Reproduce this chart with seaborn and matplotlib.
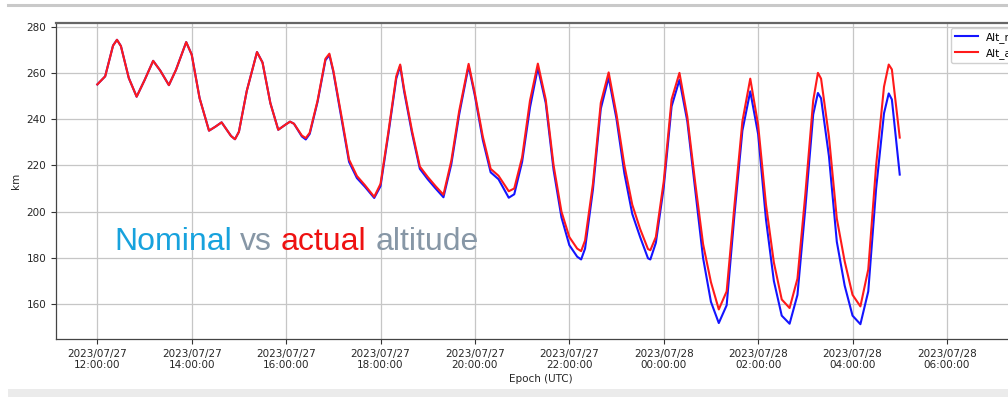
import matplotlib
matplotlib.use("Agg")
import matplotlib.pyplot as plt
import matplotlib.dates as mdates
from matplotlib.lines import Line2D
from matplotlib.patches import Rectangle
import pandas as pd
import seaborn as sns

# ---- data (minutes after 2023/07/27 12:00 UTC, altitude in km) ----
minutes = [0, 10, 20, 25, 30, 40, 50, 60, 71, 80, 91, 100, 113, 120, 130, 142, 150, 158,
           170, 175, 180, 190, 203, 210, 220, 230, 240, 245, 250, 260, 265, 270, 280, 290,
           295, 300, 310, 320, 330, 340, 352, 360, 370, 380, 385, 390, 400, 410, 420, 430,
           440, 450, 460, 472, 480, 490, 500, 510, 523, 530, 540, 550, 560, 570, 580, 590,
           600, 610, 615, 620, 630, 640, 650, 660, 670, 680, 690, 700, 703, 710, 720, 730,
           740, 750, 760, 770, 780, 790, 800, 810, 820, 830, 840, 850, 860, 870, 880, 890,
           900, 910, 916, 920, 930, 940, 950, 960, 970, 980, 990, 1000, 1006, 1010, 1020]

alt_actual = [255.0, 258.5, 271.8, 274.3, 271.6, 257.8, 249.7, 256.8, 265.2, 261.0, 254.7,
              261.3, 273.3, 267.9, 249.1, 235.0, 236.7, 238.6, 232.7, 231.3, 234.5, 252.2,
              269.0, 264.5, 246.9, 235.4, 237.8, 238.9, 238.0, 232.9, 231.8, 234.1, 248.0,
              266.1, 268.3, 261.0, 242.0, 222.5, 215.4, 211.5, 206.4, 212.0, 234.5, 258.5,
              263.6, 253.0, 235.0, 219.5, 215.0, 211.0, 207.3, 222.0, 243.5, 263.9, 251.0,
              232.5, 218.5, 215.5, 208.8, 210.0, 223.5, 248.0, 264.0, 248.5, 220.0, 200.0,
              189.0, 184.0, 182.9, 187.5, 212.0, 247.0, 260.2, 242.0, 220.0, 203.0, 192.5,
              183.8, 183.3, 189.0, 213.0, 248.5, 260.0, 241.0, 212.5, 186.0, 169.5, 157.7,
              165.5, 203.0, 239.0, 257.5, 237.5, 203.0, 178.0, 162.0, 158.3, 171.0, 207.5,
              248.0, 260.0, 257.5, 232.5, 197.0, 178.5, 164.0, 159.0, 175.0, 220.0, 254.0,
              263.6, 261.5, 232.0]

alt_nominal = [255.0, 258.5, 271.8, 274.3, 271.6, 257.8, 249.7, 256.8, 265.2, 261.0, 254.7,
               261.3, 273.3, 267.9, 249.1, 235.0, 236.7, 238.6, 232.7, 231.3, 234.5, 252.2,
               269.0, 264.5, 246.9, 235.4, 237.8, 238.9, 238.0, 232.5, 231.2, 233.6, 247.5,
               265.5, 267.7, 260.5, 241.0, 221.5, 214.5, 210.8, 205.9, 211.0, 233.5, 257.5,
               263.0, 252.0, 234.0, 218.5, 214.0, 210.0, 206.2, 220.5, 242.0, 263.0, 250.0,
               231.0, 217.0, 214.0, 206.0, 207.5, 221.5, 245.0, 262.2, 247.0, 218.0, 197.5,
               185.5, 180.5, 179.3, 184.0, 209.5, 244.5, 258.0, 240.0, 216.5, 199.0, 189.0,
               179.8, 179.3, 186.5, 210.5, 245.5, 257.0, 239.0, 209.5, 180.0, 161.0, 151.8,
               159.5, 199.0, 235.0, 252.0, 233.5, 196.5, 170.0, 155.0, 151.5, 164.0, 201.5,
               242.0, 251.3, 249.0, 224.0, 187.0, 168.0, 155.0, 151.3, 165.5, 210.0, 242.5,
               251.1, 248.5, 216.0]

series_names = ["Alt_nominal", "Alt_actual"]
series_colors = ["#1414ff", "#ff1a1a"]
y_ticks = [160, 180, 200, 220, 240, 260, 280]
overlay_words = ["Nominal", "vs", "actual", "altitude"]
overlay_colors = ["#17a2dd", "#8797a6", "#ee1111", "#8797a6"]

# ---- table for seaborn ----
start = pd.Timestamp("2023-07-27 12:00:00")
epoch = start + pd.to_timedelta(minutes, unit="min")
n = len(minutes)
df = pd.DataFrame({
    "Epoch (UTC)": list(epoch) * 2,
    "km": alt_nominal + alt_actual,
    "series": [series_names[0]] * n + [series_names[1]] * n,
})

W, H = 1008, 397
fig = plt.figure(figsize=(W / 100, H / 100), dpi=100)
fig.patch.set_facecolor("white")
ax = fig.add_axes([56 / W, 1 - 339 / H, (1026 - 56) / W, (339 - 22.7) / H])

sns.lineplot(data=df, x="Epoch (UTC)", y="km", hue="series", hue_order=series_names,
             palette=dict(zip(series_names, series_colors)), linewidth=1.5, ax=ax,
             estimator=None, sort=False)

handles, labels = ax.get_legend_handles_labels()
if ax.get_legend() is not None:
    ax.get_legend().remove()
ax.legend(handles, labels, loc="upper left", bbox_to_anchor=(951 / W, 1 - 27.5 / H),
          bbox_transform=fig.transFigure, borderaxespad=0, fontsize=7.5,
          frameon=True, edgecolor="#d0d0d0", framealpha=1, handlelength=2.2)

ax.set_xlim(pd.Timestamp("2023-07-27 11:07:30"), pd.Timestamp("2023-07-28 07:40:30"))
ax.set_ylim(144.9, 281.7)
ax.set_yticks(y_ticks)
ax.xaxis.set_major_locator(mdates.HourLocator(byhour=range(0, 24, 2)))
ax.xaxis.set_major_formatter(mdates.DateFormatter("%Y/%m/%d\n%H:%M:%S"))
ax.grid(True, color="#c6c6c6", linewidth=0.9)
ax.set_axisbelow(True)
ax.tick_params(axis="both", labelsize=7.5, colors="#333333", length=3.5, width=0.8,
               labelcolor="#262626")
for s in ax.spines.values():
    s.set_color("#444444")
    s.set_linewidth(0.9)
ax.spines["top"].set_color("#666666")
ax.spines["top"].set_linewidth(1.6)
ax.set_xlabel("Epoch (UTC)", fontsize=7.5, color="#262626", labelpad=3)
ax.set_ylabel("km", fontsize=7.5, color="#262626", labelpad=4)

# screenshot frame decorations
fig.add_artist(Line2D([8 / W, 1], [1 - 5 / H, 1 - 5 / H], transform=fig.transFigure,
                      color="#c9c9c9", linewidth=2.2))
fig.add_artist(Rectangle((8 / W, 0), 1, 8.5 / H, transform=fig.transFigure,
                         facecolor="#ebebeb", edgecolor="none"))

# overlay title text
word_x = [114, 240, 281, 376]
for word, color, x in zip(overlay_words, overlay_colors, word_x):
    fig.text(x / W, 1 - 250 / H, word, fontsize=23, family="Liberation Sans",
             color=color, va="baseline", ha="left")

fig.savefig("out.png", dpi=100)
